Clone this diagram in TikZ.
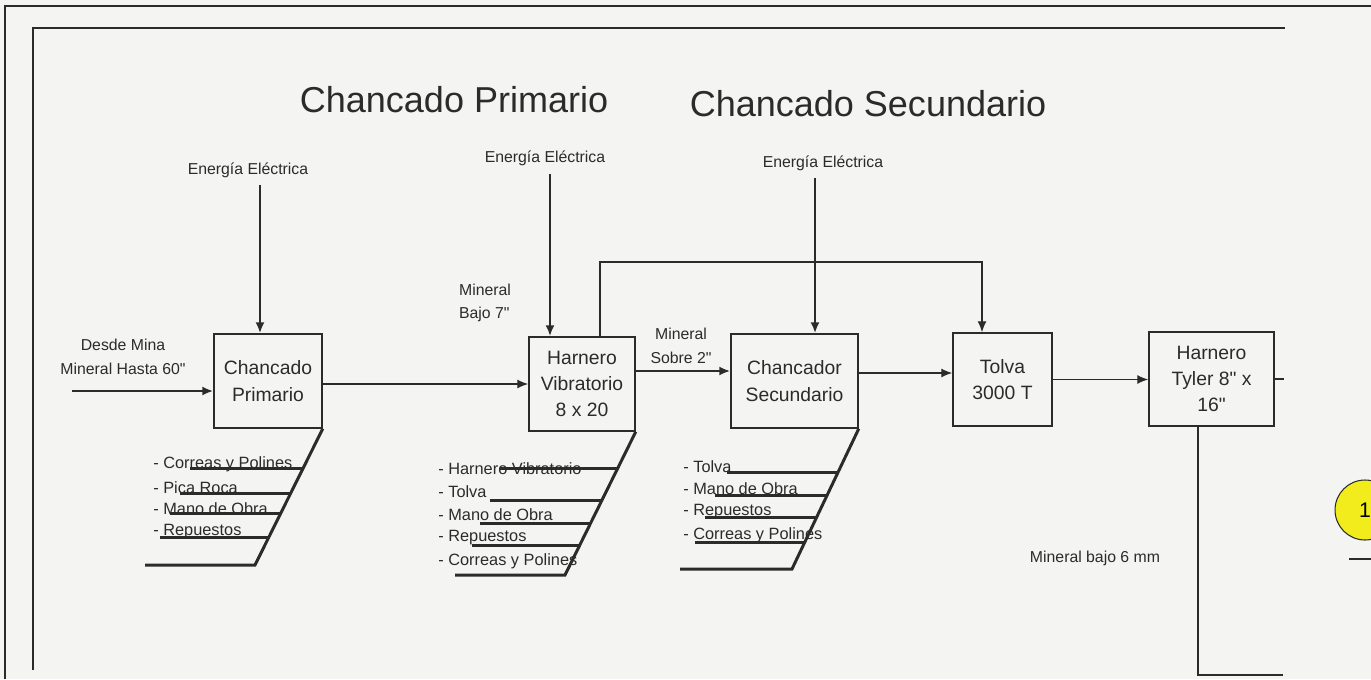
\documentclass[tikz,border=0pt]{standalone}
\usepackage{fontspec}
\setmainfont{Liberation Sans}[Ligatures=TeXOff]
\usetikzlibrary{positioning,arrows.meta}
\definecolor{ink}{HTML}{2B2B2B}
\definecolor{paper}{HTML}{F4F5F2}
\definecolor{marker}{HTML}{F2EC1C}

\tikzset{
  proc/.style={draw=ink,line width=0.85pt,align=center,text=ink,
    font=\fontsize{11}{15}\selectfont,inner sep=0pt,minimum height=1.88cm},
  flow/.style={ink,line width=0.7pt,-{Latex[length=2.2mm,width=1.8mm]}},
  feed/.style={flow,line width=1.2pt},
  bone/.style={ink,line width=1.7pt},
  lbl/.style={text=ink,font=\fontsize{9}{13.5}\selectfont,align=center},
  costlbl/.style={text=ink,font=\fontsize{9.3}{11}\selectfont,anchor=west,inner sep=0pt},
  title/.style={text=ink,font=\fontsize{20.5}{24}\selectfont}
}

\begin{document}
\begin{tikzpicture}[x=0.02cm,y=-0.02cm]
\fill[paper] (0,0) rectangle (1371,679);
\useasboundingbox (0,0) rectangle (1371,679);

% marcos de la hoja
\draw[ink,line width=1pt] (5,679) -- (5,6) -- (1371,6);
\draw[ink,line width=1.7pt] (33,670) -- (33,28) -- (1285,28);

% titulos
\node[title] (titPrim) at (454,100) {Chancado Primario};
\node[title] (titSec) at (868,104) {Chancado Secundario};

% equipos
\node[proc,minimum width=2.16cm] (chprim) at (268,381) {Chancado\\Primario};
\node[proc,minimum width=2.12cm] (harnvib) at (582,384) {Harnero\\Vibratorio\\8 x 20};
\node[proc,minimum width=2.54cm] (chsec) at (794.5,381) {Chancador\\Secundario};
\node[proc,minimum width=1.98cm,minimum height=1.86cm] (tolva) at (1002.5,379.5) {Tolva\\3000 T};
\node[proc,minimum width=2.5cm] (harntyl) at (1211.5,379) {Harnero\\Tyler 8" x\\16"};

% energia electrica
\node[lbl] (eeA) at (248,170) {Energía Eléctrica};
\node[lbl] (eeB) at (545,158) {Energía Eléctrica};
\node[lbl] (eeC) at (823,163) {Energía Eléctrica};
\coordinate (eA) at (260,185);
\coordinate (eB) at (550,174);
\coordinate (eC) at (815,178);
\draw[feed] (eA) -- (eA |- chprim.north);
\draw[feed] (eB) -- (eB |- harnvib.north);
\draw[feed] (eC) -- (eC |- chsec.north);

% flujo de mineral
\node[lbl] (mina) at (123,357) {Desde Mina\\Mineral Hasta 60"};
\coordinate (minaA) at (72,391);
\draw[feed] (minaA) -- (minaA -| chprim.west);
\draw[flow] (chprim.east |- harnvib.west) -- (harnvib.west);
\node[lbl,align=left] (bajo7) at (485,303) {Mineral\\Bajo 7"};
\node[lbl] (sobre2) at (681,346) {Mineral\\Sobre 2"};
\draw[feed] ([yshift=0.26cm]harnvib.east) coordinate (hs) -- (hs -| chsec.west);
\draw[flow] ([yshift=0.16cm]chsec.east) coordinate (ct) -- (ct -| tolva.west);
\draw[flow] (tolva.east) -- (tolva.east -| harntyl.west);
\coordinate (bypA) at (600,262);
\coordinate (bypB) at (982,262);
\draw[flow] (bypA |- harnvib.north) -- (bypA) -- (bypB) -- (bypB |- tolva.north);

% salida harnero tyler
\draw[ink,line width=0.7pt] (harntyl.east) -- ++(9,0);
\coordinate (finA) at (1198,675);
\draw[ink,line width=0.7pt] (finA |- harntyl.south) -- (finA) -- (1283,675);
\node[lbl] (bajo6) at (1095,558) {Mineral bajo 6 mm};

% marca de pagina
\node[circle,draw=ink,fill=marker,line width=0.6pt,minimum size=1.2cm,inner sep=0pt,
  font=\fontsize{12}{14}\selectfont] (ref1) at (1365,510) {1};
\draw[ink,line width=0.6pt] (1349,559) -- (1375,559);

% costos chancado primario
\draw[bone] (chprim.south east) -- (255,565) -- (145,565);
\foreach \y/\xs in {468/190,493/180,513/170,537/160}
  \draw[bone] (\xs,\y) -- ({322-(\y-428)*0.489},\y);
\foreach \y/\t in {464/Correas y Polines,488/Pica Roca,509/Mano de Obra,532/Repuestos}
  \node[costlbl] (cp\y) at (153,\y) {- \t};

% costos harnero vibratorio
\draw[bone] (harnvib.south east) -- (565,575) -- (455,575);
\foreach \y/\xs in {468/500,500/490,523/480,545/472}
  \draw[bone] (\xs,\y) -- ({635-(\y-431)*0.486},\y);
\foreach \y/\t in {469/Harnero Vibratorio,492/Tolva,515/Mano de Obra,538/Repuestos,561/Correas y Polines}
  \node[costlbl] (hv\y) at (438,\y) {- \t};

% costos chancador secundario
\draw[bone] (chsec.south east) -- (792,569) -- (680,569);
\foreach \y/\xs in {472/727,495/715,517/705,542/695}
  \draw[bone] (\xs,\y) -- ({858-(\y-428)*0.468},\y);
\foreach \y/\t in {467/Tolva,489/Mano de Obra,512/Repuestos,535/Correas y Polines}
  \node[costlbl] (cs\y) at (683,\y) {- \t};
\end{tikzpicture}
\end{document}
